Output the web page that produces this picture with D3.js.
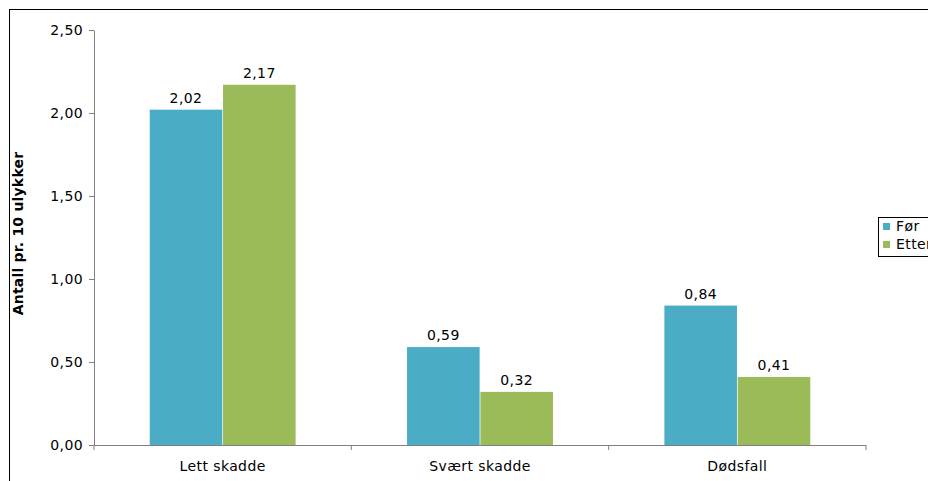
<!DOCTYPE html>
<html><head><meta charset="utf-8">
<script src="https://cdn.jsdelivr.net/npm/d3@7/dist/d3.min.js"></script>
<style>body{margin:0;background:#fff;overflow:hidden}svg{display:block}text{font-family:"DejaVu Sans",Verdana,sans-serif;letter-spacing:0.4px}</style>
</head><body><svg id="c" width="928" height="481"></svg>
<script>
const categories = ["Lett skadde", "Svært skadde", "Dødsfall"];
const seriesNames = ["Før", "Etter"];
const valuesFor = [2.02, 0.59, 0.84];
const valuesEtter = [2.17, 0.32, 0.41];
const yTicks = [0, 0.5, 1.0, 1.5, 2.0, 2.5];
const colors = ["#4BACC6", "#9BBB59"];

const svg = d3.select("#c");
const fmt = v => d3.format(".2f")(v).replace(".", ",");
const FS = 14;

// outer border
svg.append("rect").attr("x", 9.5).attr("y", 9.5).attr("width", 1000).attr("height", 600)
  .attr("fill", "none").attr("stroke", "#000").attr("stroke-width", 1);

const x0 = 94, x1 = 866, yTop = 30, yBot = 445;
const x = d3.scaleBand().domain(categories).range([x0, x1]).padding(0);
const xs = d3.scaleBand().domain(seriesNames).range([0, x.bandwidth()]).paddingInner(0.01).paddingOuter(0.76);
const y = d3.scaleLinear().domain([0, 2.5]).range([yBot, yTop]);

// bars
const data = categories.map((c, i) => ({c, vals: [valuesFor[i], valuesEtter[i]]}));
const g = svg.append("g");
data.forEach(d => {
  d.vals.forEach((v, j) => {
    const bx = x(d.c) + xs(seriesNames[j]);
    g.append("rect").attr("x", bx).attr("y", y(v)).attr("width", xs.bandwidth())
      .attr("height", y(0) - y(v)).attr("fill", colors[j]);
    g.append("text").attr("x", bx + xs.bandwidth() / 2).attr("y", y(v) - 7)
      .attr("text-anchor", "middle").attr("font-size", FS).attr("fill", "#000").text(fmt(v));
  });
});

// y axis
const ya = svg.append("g").attr("transform", `translate(${x0},0)`)
  .call(d3.axisLeft(y).tickValues(yTicks).tickFormat(fmt).tickSize(5).tickSizeOuter(0));
ya.select(".domain").attr("stroke", "#808080");
ya.selectAll(".tick line").attr("stroke", "#808080");
ya.selectAll(".tick text").attr("font-size", FS).attr("fill", "#000")
  .attr("font-family", "DejaVu Sans, Verdana, sans-serif").attr("x", -11);

// x axis
const xa = svg.append("g").attr("transform", `translate(0,${yBot})`);
xa.append("line").attr("x1", x0).attr("x2", x1).attr("y1", 0.5).attr("y2", 0.5).attr("stroke", "#808080");
const bounds = categories.map(c => x(c)).concat([x1]);
bounds.forEach(b => xa.append("line").attr("x1", b).attr("x2", b).attr("y1", 0).attr("y2", 5).attr("stroke", "#808080"));
categories.forEach(c => xa.append("text").attr("x", x(c) + x.bandwidth() / 2).attr("y", 26)
  .attr("text-anchor", "middle").attr("font-size", FS).attr("fill", "#000").text(c));

// y title
svg.append("text").attr("transform", `translate(23,${(yTop + yBot) / 2 - 4}) rotate(-90)`)
  .attr("text-anchor", "middle").attr("font-size", FS).attr("font-weight", "bold")
  .style("letter-spacing", "0.2px").text("Antall pr. 10 ulykker");

// legend
const lg = svg.append("g").attr("transform", "translate(878,217)");
lg.append("rect").attr("x", 0.5).attr("y", 0.5).attr("width", 80).attr("height", 39)
  .attr("fill", "#fff").attr("stroke", "#000");
seriesNames.forEach((s, i) => {
  lg.append("rect").attr("x", 5).attr("y", 6 + i * 18).attr("width", 7).attr("height", 7).attr("fill", colors[i]);
  lg.append("text").attr("x", 18).attr("y", 14 + i * 18).attr("font-size", FS).attr("fill", "#000").text(s);
});
</script></body></html>
